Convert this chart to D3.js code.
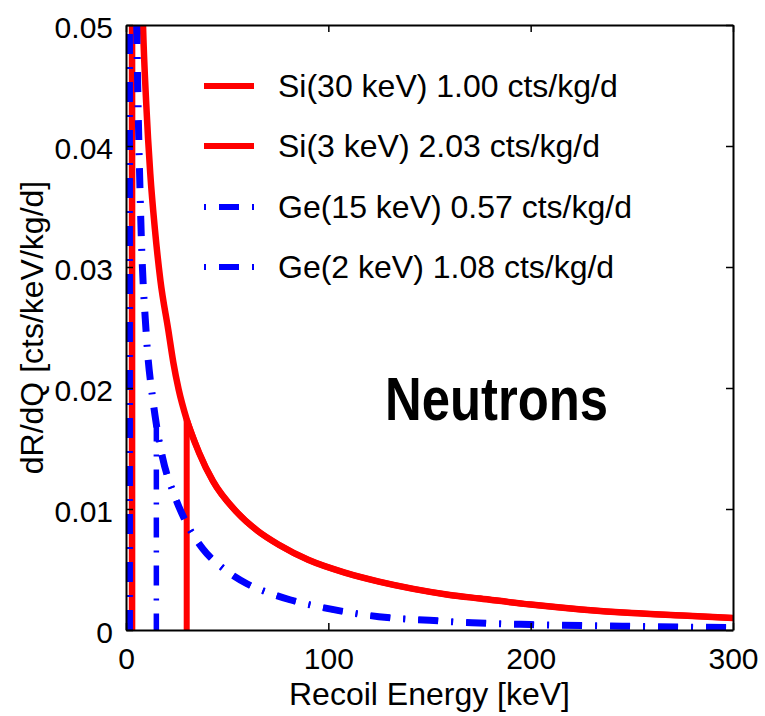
<!DOCTYPE html>
<html>
<head>
<meta charset="utf-8">
<script src="https://cdn.jsdelivr.net/npm/d3@7"></script>
<style>
  body { margin: 0; background: #fff; }
  svg { display: block; font-family: "Liberation Sans", Arial, Helvetica, sans-serif; }
</style>
</head>
<body>
<div id="chart"></div>
<script>
// Recoil spectra (cts/keV/kg/d)
const siEnergy = [3, 5, 8.4, 10, 12, 14.3, 17, 20.9, 23.4, 26, 30, 36, 43, 55, 65, 76, 90, 109, 125, 142, 160, 175, 200, 225, 250, 275, 300];
const siRate   = [0.14, 0.083, 0.050, 0.0435, 0.0377, 0.0331, 0.0289, 0.0248, 0.0221, 0.0199, 0.0174, 0.0147, 0.0123, 0.0097, 0.0082, 0.0070, 0.0058, 0.0047, 0.0040, 0.0034, 0.0029, 0.0026, 0.0021, 0.0017, 0.0014, 0.0012, 0.0010];

const geEnergy = [1.7, 3.5, 5.3, 7.3, 10, 13.3, 15, 18, 24, 30, 38, 48, 60, 70, 81, 102, 125, 150, 171, 200, 250, 300];
const geRate   = [0.15, 0.076, 0.050, 0.034, 0.0245, 0.0190, 0.0170, 0.0143, 0.0111, 0.0088, 0.0067, 0.0051, 0.0038, 0.0031, 0.0025, 0.0017, 0.0011, 0.0008, 0.0006, 0.00045, 0.0003, 0.0002];

const seriesNames = ["Si(30 keV) 1.00 cts/kg/d", "Si(3 keV) 2.03 cts/kg/d", "Ge(15 keV) 0.57 cts/kg/d", "Ge(2 keV) 1.08 cts/kg/d"];
const seriesThreshold = [30, 3, 15, 1.7];
const seriesDetector = ["si", "si", "ge", "ge"];

const xTicks = [0, 100, 200, 300];
const yTicks = [0, 0.01, 0.02, 0.03, 0.04, 0.05];

const dashPattern = "20,13,2,13";
const dashPeriod = 48;
const styles = [
    { color: "#ff0000", width: 6, dash: null },
    { color: "#ff0000", width: 6.5, dash: null },
    { color: "#0000ff", width: 5.5, dash: dashPattern },
    { color: "#0000ff", width: 7, dash: dashPattern }
];

const W = 765, H = 716;
const plot = { left: 126, right: 733, top: 25, bottom: 630 };
const fontSize = 32;
const tickFontSize = 30;

const svg = d3.select("#chart").append("svg")
    .attr("width", W)
    .attr("height", H);

const x = d3.scaleLinear().domain([0, 300]).range([plot.left, plot.right]);
const y = d3.scaleLinear().domain([0, 0.05]).range([plot.bottom, plot.top]);

svg.append("clipPath").attr("id", "clip")
    .append("rect")
    .attr("x", plot.left - 4)
    .attr("y", plot.top)
    .attr("width", plot.right - plot.left + 4)
    .attr("height", plot.bottom - plot.top);

// Spectra: vertical edge at the threshold, then the curve above it
const spectra = {
    si: siEnergy.map((e, i) => ({ e: e, r: siRate[i] })),
    ge: geEnergy.map((e, i) => ({ e: e, r: geRate[i] }))
};

const line = d3.line()
    .x(d => x(d.e))
    .y(d => y(d.r))
    .curve(d3.curveMonotoneX);

function spectrumPath(det, thr, upTo) {
    const pts = spectra[det].filter(d => d.e >= thr && d.e <= upTo);
    return `M${x(thr)},${y(0)}` + line(pts).replace(/^M/, "L");
}

const curves = svg.append("g").attr("clip-path", "url(#clip)");

const paths = seriesNames.map((name, i) =>
    curves.append("path")
        .attr("d", spectrumPath(seriesDetector[i], seriesThreshold[i], Infinity))
        .attr("fill", "none")
        .attr("stroke", styles[i].color)
        .attr("stroke-width", styles[i].width)
        .attr("stroke-dasharray", styles[i].dash));

// line the Ge(15) dashes up with the Ge(2) ones where both curves overlap
const probe = svg.append("path").attr("d", spectrumPath("ge", seriesThreshold[3], seriesThreshold[2]));
const lenToJoin = probe.node().getTotalLength();
probe.remove();
const geVertical = y(0) - y(geRate[geEnergy.indexOf(seriesThreshold[2])]);
paths[2].attr("stroke-dashoffset", (((lenToJoin - geVertical) % dashPeriod) + dashPeriod) % dashPeriod);

// Axes, ticks pointing inwards on all four sides
const axisStyle = g => {
    g.select(".domain").attr("stroke", "#000").attr("stroke-width", 2);
    g.selectAll(".tick line").attr("stroke", "#000").attr("stroke-width", 1.5);
    g.selectAll(".tick text")
        .attr("font-size", tickFontSize)
        .attr("font-family", "Liberation Sans, Arial, sans-serif")
        .attr("fill", "#000");
};

svg.append("g")
    .attr("transform", `translate(0,${plot.bottom})`)
    .call(d3.axisBottom(x).tickValues(xTicks).tickFormat(d3.format("d"))
        .tickSizeInner(-7).tickSizeOuter(0).tickPadding(18))
    .call(axisStyle);

svg.append("g")
    .attr("transform", `translate(0,${plot.top})`)
    .call(d3.axisTop(x).tickValues(xTicks).tickFormat("")
        .tickSizeInner(-7).tickSizeOuter(0))
    .call(axisStyle);

svg.append("g")
    .attr("transform", `translate(${plot.left},0)`)
    .call(d3.axisLeft(y).tickValues(yTicks).tickFormat(d => d === 0 ? "0" : d3.format(".2f")(d))
        .tickSizeInner(-7).tickSizeOuter(0).tickPadding(13))
    .call(axisStyle)
    .call(g => g.selectAll(".tick text").attr("dy", "0.4em"));

svg.append("g")
    .attr("transform", `translate(${plot.right},0)`)
    .call(d3.axisRight(y).tickValues(yTicks).tickFormat("")
        .tickSizeInner(-7).tickSizeOuter(0))
    .call(axisStyle);

// Axis labels
svg.append("text")
    .attr("x", (plot.left + plot.right) / 2)
    .attr("y", 705)
    .attr("text-anchor", "middle")
    .attr("font-size", fontSize)
    .text("Recoil Energy [keV]");

svg.append("text")
    .attr("transform", `translate(43,${(plot.top + plot.bottom) / 2}) rotate(-90)`)
    .attr("text-anchor", "middle")
    .attr("font-size", fontSize)
    .text("dR/dQ [cts/keV/kg/d]");

// Legend
const legendRows = [86, 146, 207, 267];
const legend = svg.append("g");
seriesNames.forEach((name, i) => {
    const row = legend.append("g").attr("transform", `translate(0,${legendRows[i]})`);
    row.append("line")
        .attr("x1", 204).attr("x2", 254)
        .attr("stroke", styles[i].color)
        .attr("stroke-width", 6)
        .attr("stroke-dasharray", styles[i].dash ? "2,13,20,13" : null);
    row.append("text")
        .attr("x", 278)
        .attr("y", 11)
        .attr("font-size", fontSize)
        .text(name);
});

// Annotation
svg.append("text")
    .attr("x", 385)
    .attr("y", 420)
    .attr("font-family", "Liberation Sans Narrow, Arial Narrow, Liberation Sans, sans-serif")
    .attr("font-weight", "bold")
    .attr("font-size", 62)
    .attr("textLength", 223)
    .attr("lengthAdjust", "spacingAndGlyphs")
    .text("Neutrons");
</script>
</body>
</html>
